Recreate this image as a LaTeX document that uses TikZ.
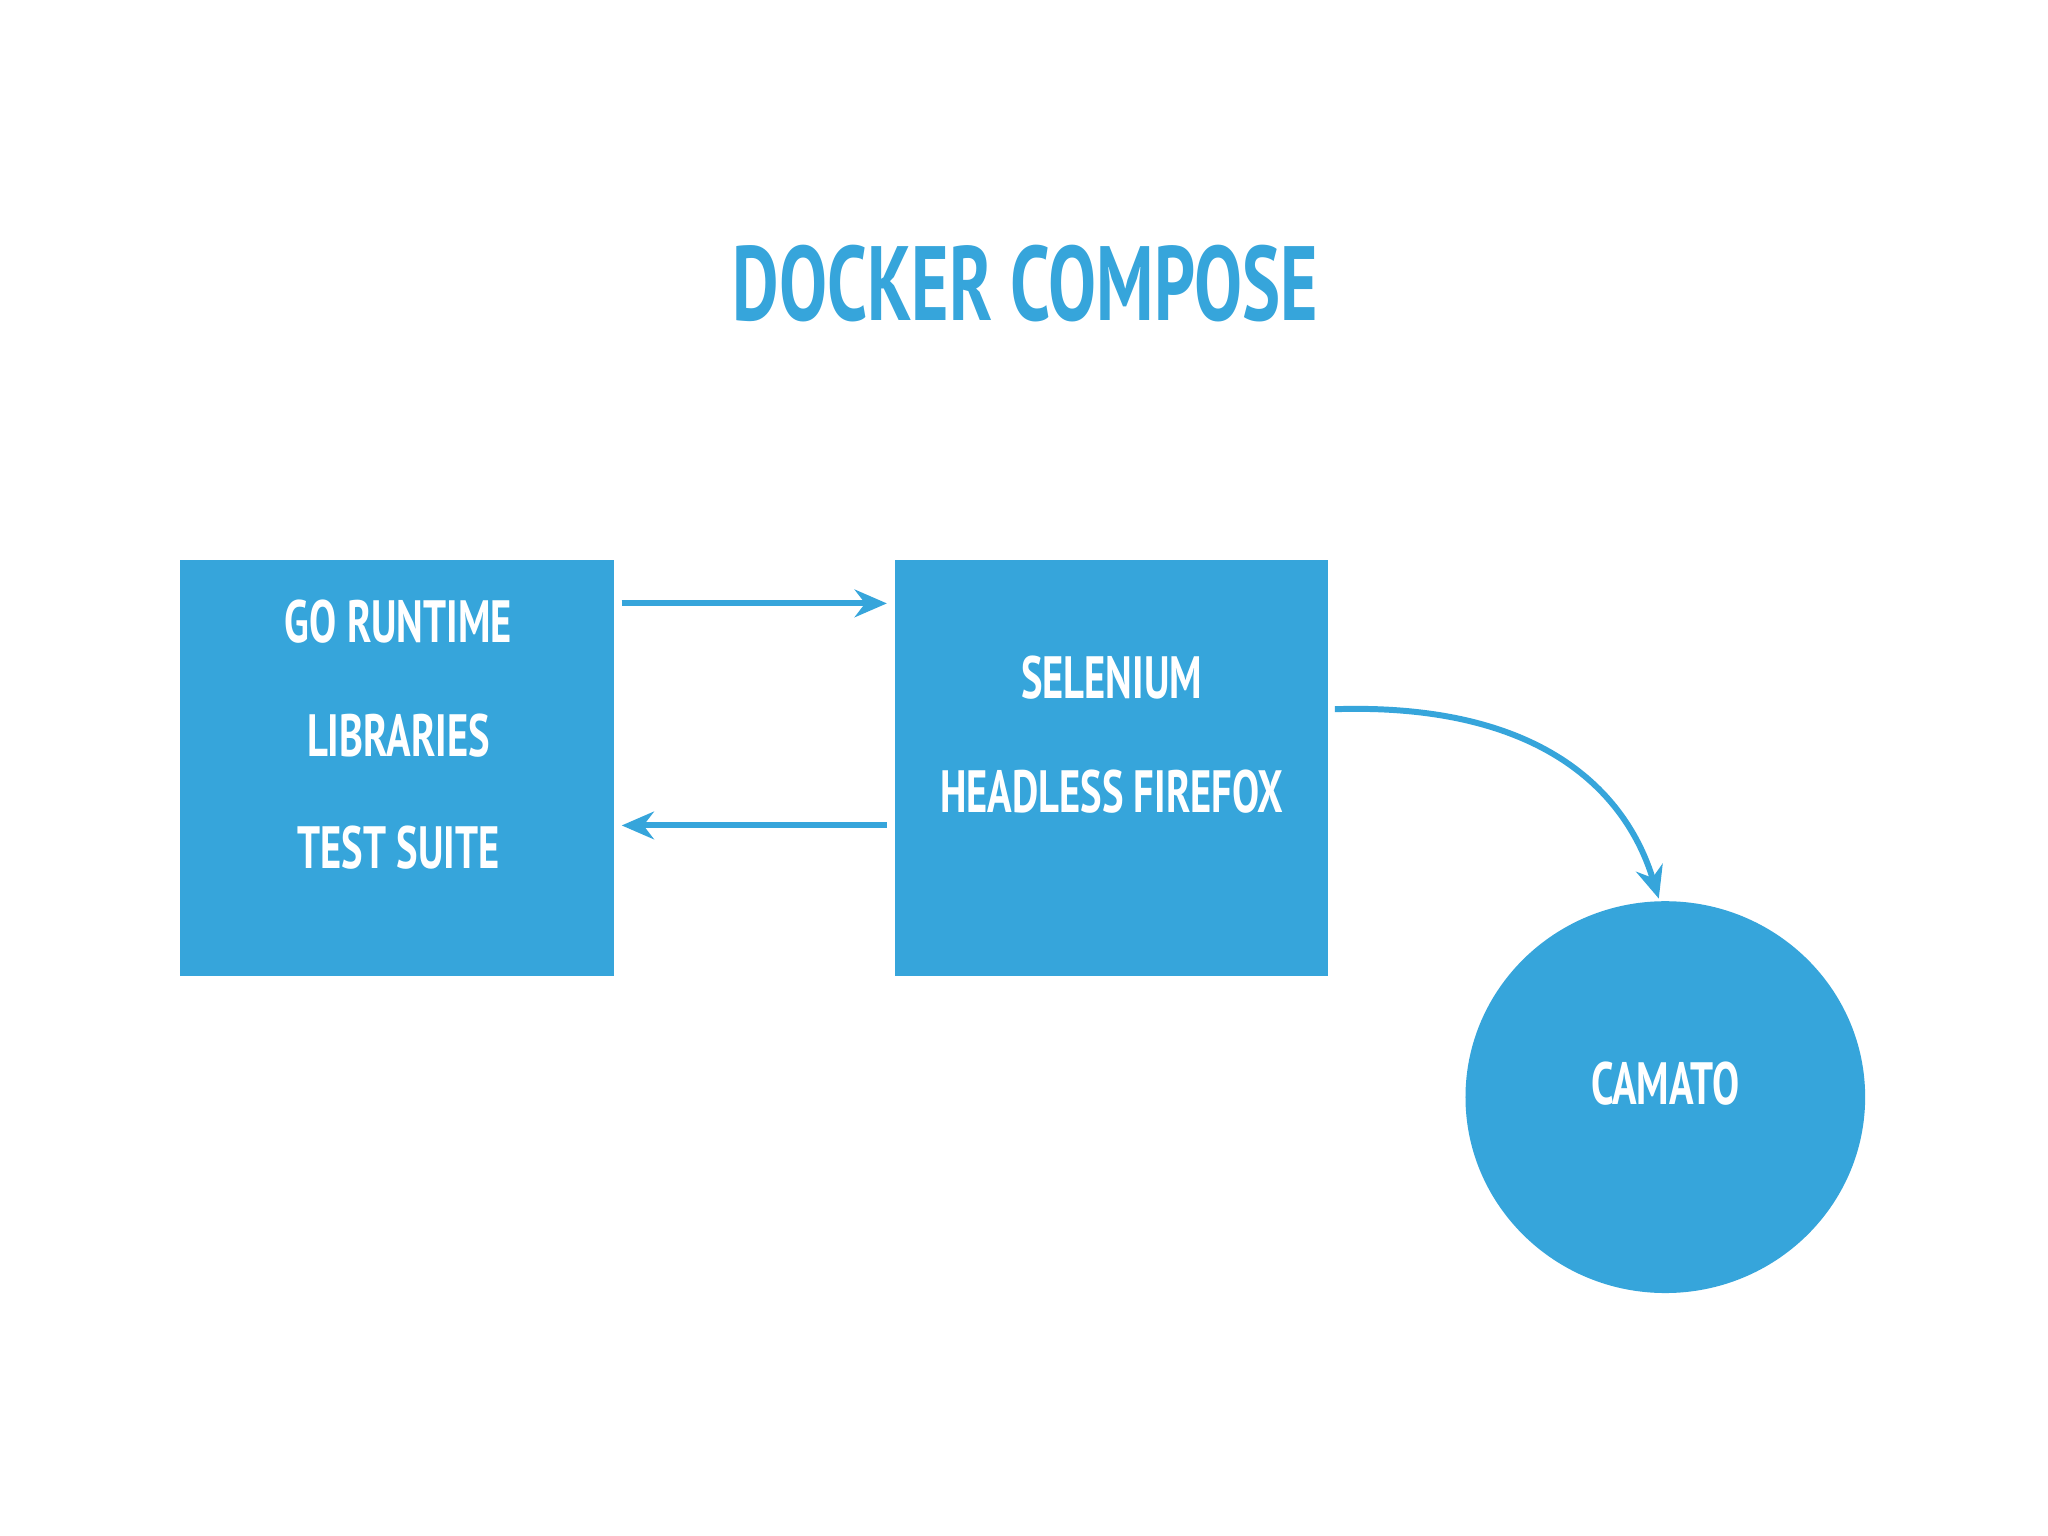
\documentclass[tikz,border=0pt]{standalone}
\usepackage{fontspec}
\setmainfont{PT Sans}
\newfontfamily\condf{PT Sans}[FakeStretch=0.68]
\usetikzlibrary{shapes.geometric,arrows.meta}
\definecolor{dblue}{HTML}{36A5DB}
\begin{document}
\begin{tikzpicture}[x=1cm,y=1cm,
  blk/.style={fill=dblue,draw=none},
  lbl/.style={text=white,font=\condf\bfseries\fontsize{13}{15}\selectfont,inner sep=0},
  conn/.style={draw=dblue,line width=1.3pt,-{Stealth[length=7pt,width=6pt]}}]
\useasboundingbox[fill=white] (0,0) rectangle (15.68,11.76);
\node[text=dblue,font=\condf\bfseries\fontsize{23}{26}\selectfont,inner sep=0] (title) at (7.85,9.59) {DOCKER COMPOSE};
\node[blk,minimum width=3.32cm,minimum height=3.19cm,inner sep=0] (b1) at (3.04,5.88) {};
\node[blk,minimum width=3.32cm,minimum height=3.19cm,inner sep=0] (b2) at (8.51,5.88) {};
\node[blk,ellipse,minimum width=3.06cm,minimum height=3.0cm,inner sep=0] (c) at (12.75,3.36) {};
\node[lbl] (t1) at (3.05,7.00) {GO RUNTIME};
\node[lbl] (t2) at (3.05,6.13) {LIBRARIES};
\node[lbl] (t3) at (3.05,5.27) {TEST SUITE};
\node[lbl] (t4) at (8.51,6.57) {SELENIUM};
\node[lbl] (t5) at (8.51,5.70) {HEADLESS FIREFOX};
\node[lbl] (t6) at (12.75,3.46) {CAMATO};
\coordinate (a1s) at (4.76,7.14); \coordinate (a1e) at (6.79,7.14);
\coordinate (a2s) at (6.79,5.44); \coordinate (a2e) at (4.76,5.44);
\coordinate (cs) at (10.22,6.33); \coordinate (ce) at (12.70,4.88);
\draw[conn] (a1s) -- (a1e);
\draw[conn] (a2s) -- (a2e);
\draw[conn] (cs) .. controls (11.8,6.38) and (12.45,5.7) .. (ce);
\end{tikzpicture}
\end{document}
